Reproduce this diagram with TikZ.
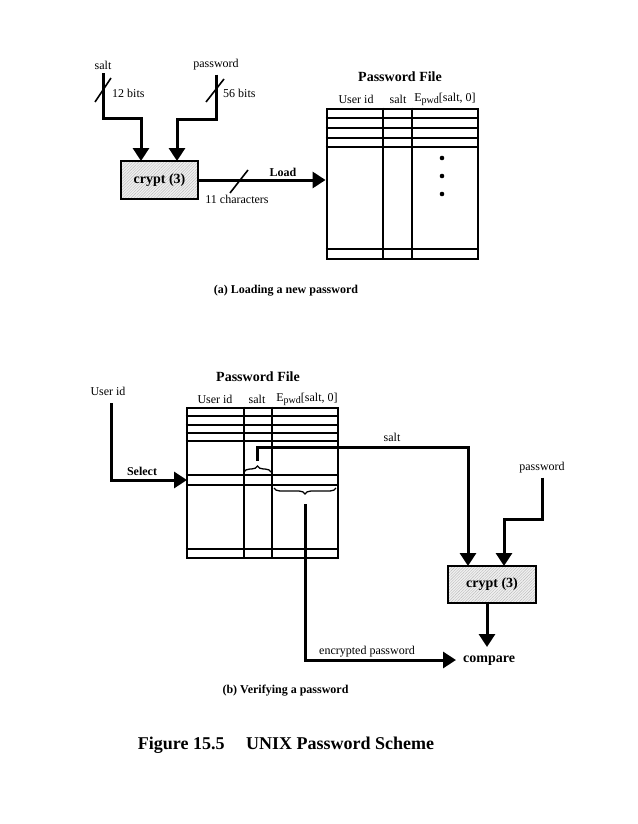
\documentclass[tikz,border=0pt]{standalone}
\usepackage{fontspec}
\setmainfont{Liberation Serif}
\usetikzlibrary{arrows.meta,decorations.pathreplacing,calc,patterns.meta}
\begin{document}
\begin{tikzpicture}[x=1pt,y=-1pt,
  lbl/.style={font=\fontsize{12}{14}\selectfont, inner sep=1pt},
  blbl/.style={font=\bfseries\fontsize{12}{14}\selectfont, inner sep=1pt},
  ttl/.style={font=\bfseries\fontsize{14}{16}\selectfont, inner sep=1pt},
  arr/.style={line width=3pt, -{Triangle[length=13pt,width=16pt]}},
  cryptbox/.style={draw, line width=2.6pt, rectangle,
     preaction={fill=gray!12},
     pattern={Lines[angle=45,distance=2pt,line width=0.4pt]}, pattern color=gray!55,
     font=\bfseries\fontsize{14}{16}\selectfont, inner sep=0pt},
  tbl/.style={draw, line width=2.9pt, rectangle, inner sep=0pt, minimum width=151pt, minimum height=150pt},
  rowline/.style={line width=1.8pt},
  slash/.style={line width=1.6pt},
  brc/.style={decorate, decoration={brace, amplitude=6pt}, line width=1.3pt}]

\useasboundingbox (0,0) rectangle (637,824);

% ---------------- (a) Loading a new password ----------------
\node[lbl] (saltA) at (103,65) {salt};
\node[lbl] (pwdA) at (216,65) {password};
\node[cryptbox, minimum width=77pt, minimum height=38pt] (cryptA) at (159.5,180) {crypt (3)};
\node[tbl] (tableA) at (402.5,184) {};

\coordinate (cA1) at (141,161);
\coordinate (cA2) at (177,161);
\draw[arr] (saltA.south) ++(0,3) -- ++(0,45) -| (cA1);
\draw[arr] (pwdA.south) ++(0,3) -- ++(0,45) -| (cA2);
\draw[slash] (95,102) -- (111,78);
\draw[slash] (206,102) -- (224,79);
\node[lbl, anchor=west] (bits12) at (111,93) {12 bits};
\node[lbl, anchor=west] (bits56) at (222,93) {56 bits};

\draw[arr] (cryptA.east) -- (cryptA.east -| tableA.west);
\draw[slash] (230,193) -- (248,170);
\node[blbl] (load) at (283,172) {Load};
\node[lbl] (chars) at (237,199) {11 characters};

% table A
\foreach \yy in {118,128,138,147,249}
  \draw[rowline] (tableA.west |- 0,\yy) -- (tableA.east |- 0,\yy);
\foreach \xx in {383,412}
  \draw[rowline] (\xx,0 |- tableA.north) -- (\xx,0 |- tableA.south);
\node[ttl] (pfA) at (400,77) {Password File};
\node[lbl] (uidA) at (356,99) {User id};
\node[lbl] (sltA) at (398,99) {salt};
\node[lbl] (epA) at (445,99) {E\raisebox{-2pt}{\fontsize{10}{10}\selectfont pwd}[salt, 0]};
\foreach \yy in {158,176,194}
  \fill (442,\yy) circle (2.3pt);

\node[blbl] (capA) at (286,291) {(a) Loading a new password};

% ---------------- (b) Verifying a password ----------------
\node[lbl] (uidB0) at (108,391) {User id};
\node[tbl] (tableB) at (262.5,483) {};
\coordinate (selT) at (187,480);
\coordinate (uidStart) at (111,403);
\draw[arr] (uidStart) |- (selT);
\node[blbl] (select) at (142,471) {Select};

\foreach \yy in {416,425,433,441,475,485,549}
  \draw[rowline] (tableB.west |- 0,\yy) -- (tableB.east |- 0,\yy);
\foreach \xx in {244,272}
  \draw[rowline] (\xx,0 |- tableB.north) -- (\xx,0 |- tableB.south);
\node[ttl] (pfB) at (258,377) {Password File};
\node[lbl] (uidB) at (215,399) {User id};
\node[lbl] (sltB) at (257,399) {salt};
\node[lbl] (epB) at (307,399) {E\raisebox{-2pt}{\fontsize{10}{10}\selectfont pwd}[salt, 0]};

% braces
\draw[brc] (244,472) -- (271,472);
\draw[brc] (336,488) -- (274,488);
\coordinate (sbtip) at (257.5,461);
\coordinate (ebtip) at (305,504);

\node[cryptbox, minimum width=88pt, minimum height=37pt] (cryptB) at (492,584.5) {crypt (3)};
\node[ttl, anchor=west] (compare) at (462,661) {compare};
\node[lbl] (pwdB) at (542,468) {password};
\node[lbl] (saltB) at (392,437) {salt};

\coordinate (cB1) at (468,566);
\coordinate (cB2) at (504,566);
\coordinate (cmpTop) at (487,647);
\coordinate (cmpLeft) at (456,660);
\draw[arr] (sbtip) |- (468,447) -- (cB1);
\draw[arr] (pwdB.south) ++(0,3) -- (542,519) -| (cB2);
\draw[arr] (cmpTop |- cryptB.south) -- (cmpTop);

\draw[arr] (ebtip) |- (cmpLeft);
\node[lbl] (encp) at (367,652) {encrypted password};

\node[blbl] (capB) at (285.5,691) {(b) Verifying a password};

\node[font=\bfseries\fontsize{18}{20}\selectfont, inner sep=1pt] (fig) at (286,745) {Figure 15.5\hspace{1.2em}UNIX Password Scheme};
\end{tikzpicture}
\end{document}
